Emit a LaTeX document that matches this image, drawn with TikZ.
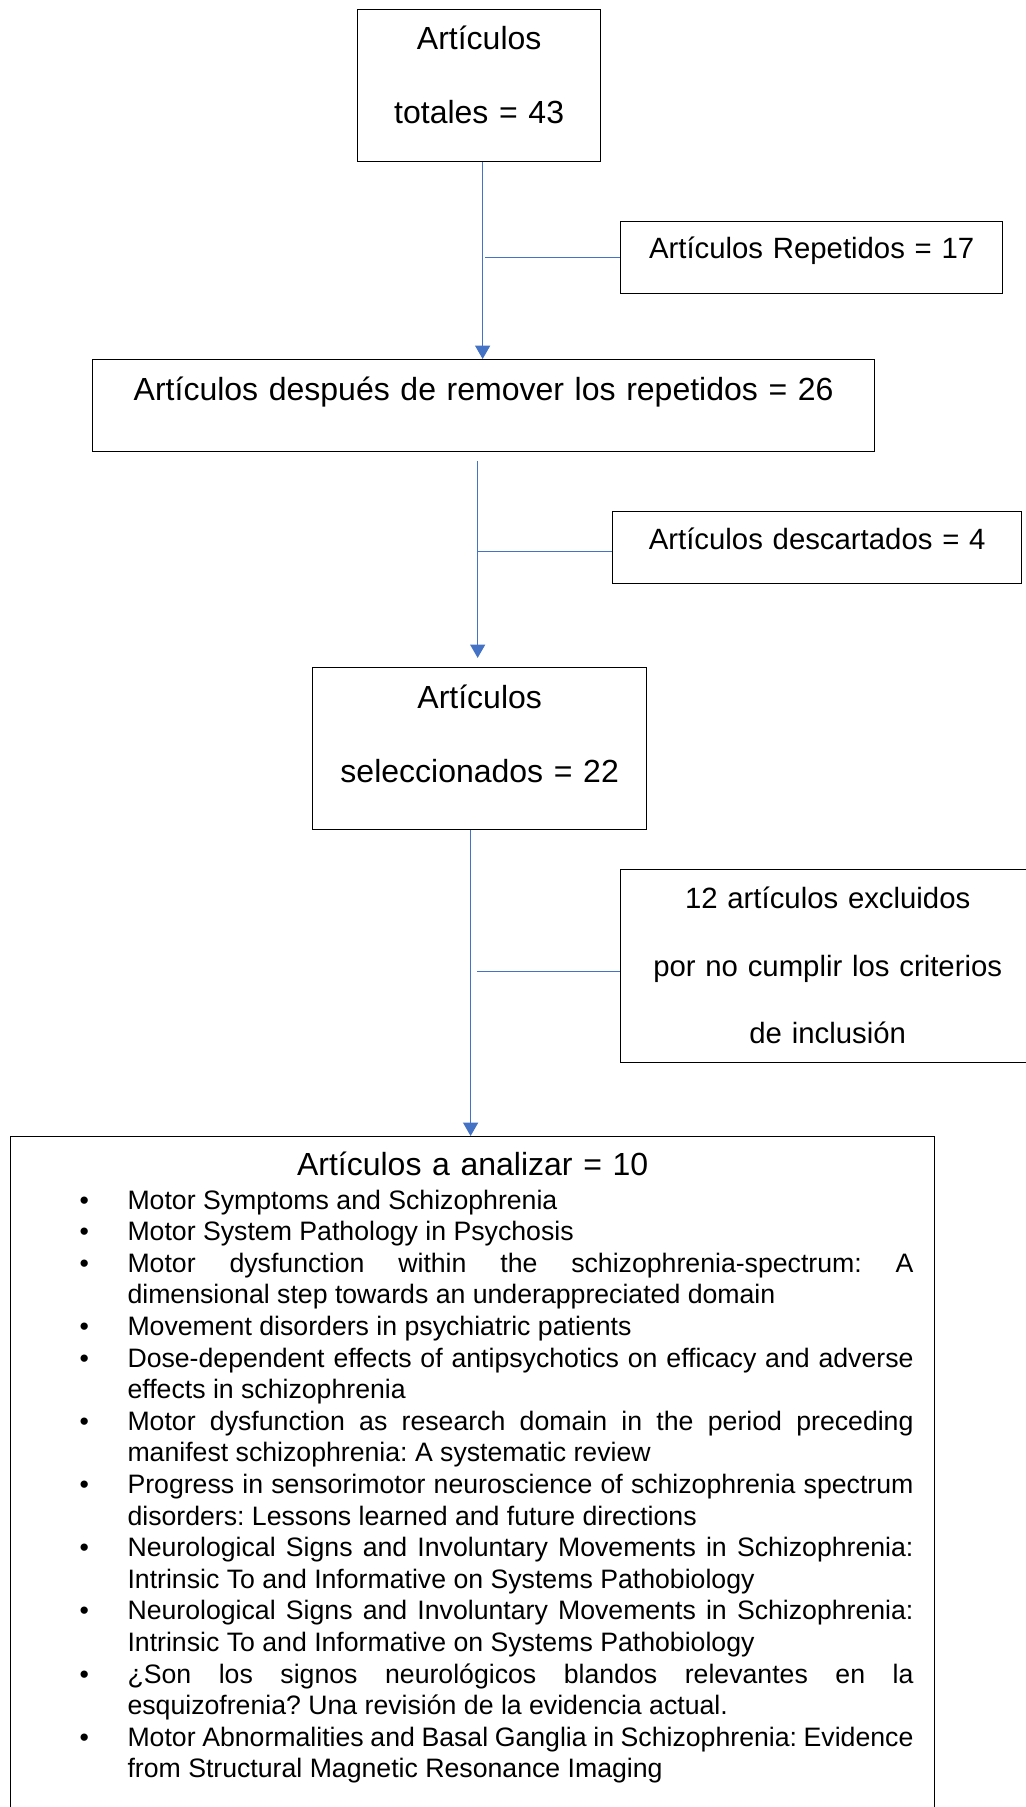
\documentclass[tikz,border=0pt]{standalone}
\usepackage{fontspec}
\setmainfont{Liberation Sans}
\usetikzlibrary{arrows.meta}
\definecolor{flowblue}{HTML}{4472C4}
\newcommand{\px}{0.375pt}
\frenchspacing
% one bullet line of the list
\newcommand{\titem}[1]{\noindent\hangindent=18pt\hangafter=1\makebox[18pt][l]{\textbullet}#1\par}

\tikzset{
	box/.style={draw=black, line width=0.5pt, inner sep=0pt, anchor=north west, align=center},
	bigtext/.style={font=\fontsize{12}{27.75}\selectfont},
	smalltext/.style={font=\fontsize{11}{25.3}\selectfont},
	titles/.style={anchor=base west, inner sep=0pt, text width=312.75pt, align=justify, font=\fontsize{10}{11.85}\selectfont},
	flow/.style={draw=flowblue, line width=0.55pt, -{Triangle[width=5.6pt,length=5pt]}},
	branch/.style={draw=flowblue, line width=0.55pt}
}

\begin{document}
\begin{tikzpicture}[x=\px,y=-\px]
		\useasboundingbox (0,0) rectangle (1025,1807);
		%main column
		\node[box, bigtext, text width=91.125pt, text height=15pt, text depth=42pt] (total) at (357,9) {Artículos\\totales = 43};
		\node[box, bigtext, text width=293.25pt, text height=15.375pt, text depth=19.125pt] (after) at (92,359) {Artículos después de remover los repetidos = 26};
		\node[box, bigtext, text width=125.25pt, text height=15.375pt, text depth=45.375pt] (sel) at (312,667) {Artículos\\seleccionados = 22};
		\node[box, bigtext, text width=346.5pt, text height=14.625pt, text depth=260.25pt] (final) at (10,1136) {Artículos a analizar = 10};
		
		%side boxes
		\node[box, smalltext, text width=143.25pt, text height=13.875pt, text depth=13.125pt] (rep) at (620,221) {Artículos Repetidos = 17};
		\node[box, smalltext, text width=153.375pt, text height=14.25pt, text depth=12.75pt] (desc) at (612,511) {Artículos descartados = 4};
		\node[box, smalltext, text width=155.25pt, text height=14.625pt, text depth=57.75pt] (excl) at (620,869) {12 artículos excluidos\\por no cumplir los criterios\\de inclusión};
		
		%list of articles
		\node[titles] (list) at (79,1209) {\tolerance=10000 \hyphenpenalty=10000 \exhyphenpenalty=10000
			\titem{Motor Symptoms and Schizophrenia}
			\titem{Motor System Pathology in Psychosis}
			\titem{Motor dysfunction within the schizophrenia-spectrum: A\linebreak dimensional step towards an underappreciated domain}
			\titem{Movement disorders in psychiatric patients}
			\titem{Dose-dependent effects of antipsychotics on efficacy and adverse\linebreak effects in schizophrenia}
			\titem{Motor dysfunction as research domain in the period preceding\linebreak manifest schizophrenia: A systematic review}
			\titem{Progress in sensorimotor neuroscience of schizophrenia spectrum\linebreak disorders: Lessons learned and future directions}
			\titem{Neurological Signs and Involuntary Movements in Schizophrenia:\linebreak Intrinsic To and Informative on Systems Pathobiology}
			\titem{Neurological Signs and Involuntary Movements in Schizophrenia:\linebreak Intrinsic To and Informative on Systems Pathobiology}
			\titem{¿Son los signos neurológicos blandos relevantes en la\linebreak esquizofrenia? Una revisión de la evidencia actual.}
			\titem{Motor Abnormalities and Basal Ganglia in Schizophrenia: Evidence\linebreak from Structural Magnetic Resonance Imaging}};
		
		%arrows:
		\coordinate (s1) at ([xshift=1.3pt]total.south);
		\coordinate (s2) at ([xshift=-2.25pt,yshift=-3.4pt]after.south);
		\coordinate (s3) at ([xshift=-3.4pt]sel.south);
		\draw[flow] (s1) -- (s1 |- after.north);
		\draw[flow, shorten >=3.4pt] (s2) -- (s2 |- sel.north);
		\draw[flow] (s3) -- (s3 |- final.north);
		\draw[branch, shorten >=0.75pt] (rep.west) -- (rep.west -| s1);
		\draw[branch] ([yshift=-1.5pt]desc.west) -- ([yshift=-1.5pt]desc.west -| s2);
		\draw[branch, shorten >=2.25pt] ([yshift=-2pt]excl.west) -- ([yshift=-2pt]excl.west -| s3);
		
\end{tikzpicture}
\end{document}
